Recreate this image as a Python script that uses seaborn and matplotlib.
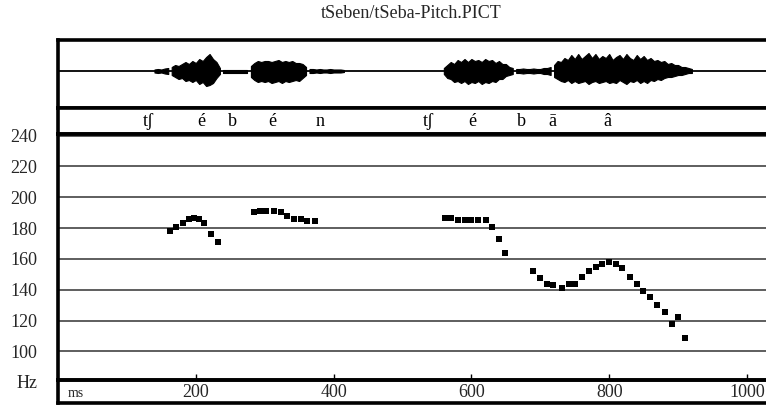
import numpy as np
import pandas as pd
import matplotlib
matplotlib.use("Agg")
import matplotlib.pyplot as plt
import seaborn as sns

# ---------------- data ----------------
title = "tSeben/tSeba-Pitch.PICT"

# pitch track (ms, Hz)
pitch_ms = [163, 171, 181, 190, 197, 204, 212, 222, 232,
            284, 293, 302, 314, 324, 333, 343, 353, 362, 373,
            561, 571, 580, 590, 600, 610, 621, 630, 640, 649,
            690, 700, 709, 719, 731, 741, 751, 760, 770, 781, 790, 800,
            810, 819, 830, 840, 849, 859, 869, 881, 891, 900, 910]
pitch_hz = [178, 180.5, 183, 186, 186.5, 186, 183.5, 176, 171,
            190.5, 191, 191, 191, 190.5, 188, 186, 186, 184.5, 184.5,
            186.5, 186.5, 185.5, 185, 185, 185, 185, 181, 173, 164,
            152, 147.5, 144, 143, 141, 143.5, 144, 148, 152, 155, 157, 158,
            156.5, 154, 148.5, 144, 139, 135, 130, 125.5, 118, 122.5, 108.5]

# phonetic segment labels (ms position, label)
seg_ms = [131, 208, 253, 311, 380, 537, 601, 672, 718, 797]
seg_lab = ["tʃ", "é", "b", "é", "n", "tʃ", "é", "b", "ā", "â"]

# waveform envelope, 5-ms samples (segment start ms, upper, lower amplitude)
wave_starts = [140, 165, 240, 280, 365, 560, 665, 720]
wave_up = [
    [1.5, 2, 1.5, 2.5, 3],
    [4, 6, 5, 7, 9, 7, 10, 8, 12, 10, 14, 17, 12, 9, 3],
    [1.5, 1.5, 1.5, 1.5, 1.5, 1.5, 1.5, 1.5],
    [5, 8, 10, 9, 10, 10, 9, 10, 11, 9, 10, 9, 10, 8, 8, 7, 4],
    [2, 2, 1.5, 2, 1.5, 1.5, 2, 1.5, 1.5, 1.5, 1],
    [3, 6, 9, 7, 11, 9, 12, 9, 12, 10, 11, 9, 12, 10, 11, 8, 10, 7, 7, 4, 3],
    [2, 2, 2.5, 2, 2, 2.5, 2, 2, 3, 3, 4],
    [6, 10, 9, 13, 11, 16, 12, 17, 12, 15, 18, 13, 17, 12, 15, 13, 17, 11, 14, 16,
     12, 17, 13, 11, 16, 12, 15, 11, 13, 10, 11, 9, 10, 7, 8, 6, 6, 4, 4, 3, 2],
]
wave_dn = [
    [1.5, 2, 1.5, 2.5, 3],
    [4, 6, 8, 7, 10, 9, 11, 9, 13, 11, 15, 14, 12, 7, 3],
    [1.5, 1.5, 1.5, 1.5, 1.5, 1.5, 1.5, 1.5],
    [6, 9, 11, 10, 11, 10, 12, 11, 10, 12, 10, 11, 10, 9, 10, 7, 4],
    [2, 2, 1.5, 2, 1.5, 1.5, 2, 1.5, 1.5, 1.5, 1],
    [3, 7, 8, 11, 10, 12, 10, 13, 11, 12, 10, 13, 11, 12, 10, 11, 8, 8, 5, 4, 3],
    [2, 2, 2.5, 2, 2, 2.5, 2, 2, 3, 3, 4],
    [6, 8, 10, 11, 9, 12, 10, 12, 11, 10, 13, 11, 10, 12, 11, 10, 12, 11, 12, 9,
     11, 13, 10, 11, 9, 12, 10, 12, 9, 10, 8, 9, 7, 6, 6, 5, 4, 4, 3, 2, 2],
]

x_ticks = [200, 400, 600, 800, 1000]
y_ticks = [100, 120, 140, 160, 180, 200, 220, 240]

# ---------------- style ----------------
sns.set_theme(style="white")
plt.rcParams["font.family"] = ["Liberation Serif", "DejaVu Serif"]
plt.rcParams["axes.linewidth"] = 2.6

W, H = 766, 405
fig = plt.figure(figsize=(W / 100, H / 100), dpi=100)

x0 = 58
x1 = 830
xmax = (x1 - x0) / 0.689

def add_ax(top, bottom):
    return fig.add_axes([x0 / W, 1 - bottom / H, (x1 - x0) / W, (bottom - top) / H])

ax_w = add_ax(40, 108)
ax_l = add_ax(108, 134)
ax_b = add_ax(380, 403)
ax_p = add_ax(134, 380)
ax_p.set_zorder(5)
ax_p.patch.set_alpha(0)

for ax in (ax_w, ax_l, ax_p, ax_b):
    ax.set_xlim(0, xmax)
    for s in ax.spines.values():
        s.set_color("black")
        s.set_linewidth(2.6)

# waveform
ax_w.set_ylim(-37, 31)
ax_w.axhline(0, color="black", lw=1.3)
for st, up, dn in zip(wave_starts, wave_up, wave_dn):
    t = st + 5 * np.arange(len(up))
    ax_w.fill_between(t, -np.array(dn), np.array(up),
                      color="black", lw=0.8)
ax_w.set_xticks([])
ax_w.set_yticks([])

# segment labels
ax_l.set_ylim(0, 1)
for m, lab in zip(seg_ms, seg_lab):
    ax_l.text(m, 0.5, lab, ha="center", va="center", fontsize=13, color="black")
ax_l.set_xticks([])
ax_l.set_yticks([])

# pitch panel
df = pd.DataFrame({"ms": pitch_ms, "hz": pitch_hz})
sns.scatterplot(data=df, x="ms", y="hz", ax=ax_p, marker="s", s=14,
                color="black", linewidth=0, zorder=3)
ax_p.set_ylim(81.5, 241)
ax_p.set_yticks(y_ticks)
ax_p.set_yticklabels([str(v) for v in y_ticks], fontsize=13)
ax_p.set_xticks(x_ticks)
ax_p.set_xticklabels([str(v) for v in x_ticks], fontsize=13)
ax_p.tick_params(axis="y", length=0, pad=15)
ax_p.tick_params(axis="x", direction="in", length=4.5, width=1, color="black",
                 pad=3, bottom=True)
ax_p.set_xlabel("")
ax_p.set_ylabel("")
ax_p.grid(axis="y", color="#333333", lw=1.1)
ax_p.grid(axis="x", visible=False)
ax_p.set_axisbelow(True)

# bottom strip
ax_b.set_xticks([])
ax_b.set_yticks([])
ax_b.set_ylim(0, 1)
ax_b.text(0.012, 0.42, "ms", transform=ax_b.transAxes, ha="left", va="center",
          fontsize=10)

fig.text(27 / W, 1 - 383 / H, "Hz", ha="center", va="center", fontsize=13)
fig.text(411 / W, 1 - 14 / H, title, ha="center", va="center", fontsize=13)

fig.savefig("out.png", dpi=100)
